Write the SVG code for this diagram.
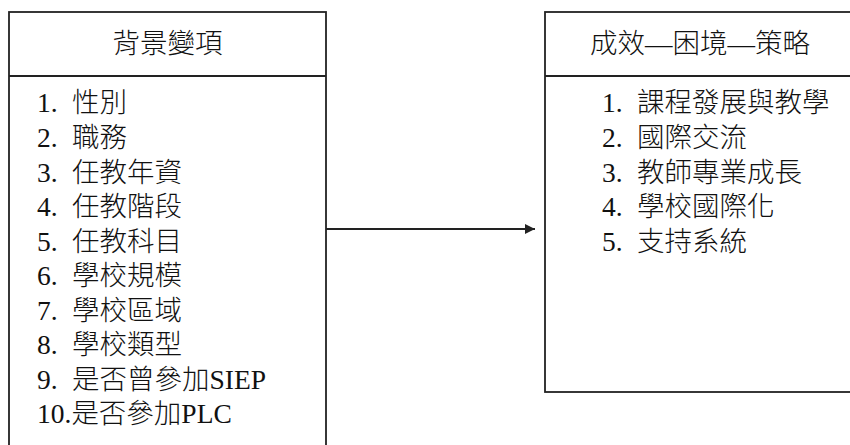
<svg xmlns="http://www.w3.org/2000/svg" width="850" height="445" viewBox="0 0 850 445">
<style>
.box{fill:none;stroke:#222;stroke-width:1.8}
.t{font-family:"Liberation Serif","Noto Sans CJK TC",serif;font-size:27.5px;font-weight:300;fill:#111}
.title{text-anchor:middle}
.conn{stroke:#222;stroke-width:1.8;fill:none}
</style>
<defs>
<marker id="arr" markerWidth="10" markerHeight="10" refX="10" refY="5" orient="auto" markerUnits="userSpaceOnUse">
<path d="M0,0 L10,5 L0,10 Z" fill="#222"/>
</marker>
</defs>
<rect width="850" height="445" fill="#fff"/>
<g id="background-variables">
<rect class="box" x="9" y="12" width="317" height="460"/>
<line class="box" x1="9" y1="76" x2="326" y2="76"/>
<text class="t title" x="167.5" y="53">背景變項</text>
<text class="t" x="37" y="112">1.<tspan x="72">性別</tspan></text>
<text class="t" x="37" y="147">2.<tspan x="72">職務</tspan></text>
<text class="t" x="37" y="182">3.<tspan x="72">任教年資</tspan></text>
<text class="t" x="37" y="216">4.<tspan x="72">任教階段</tspan></text>
<text class="t" x="37" y="251">5.<tspan x="72">任教科目</tspan></text>
<text class="t" x="37" y="285">6.<tspan x="72">學校規模</tspan></text>
<text class="t" x="37" y="320">7.<tspan x="72">學校區域</tspan></text>
<text class="t" x="37" y="354">8.<tspan x="72">學校類型</tspan></text>
<text class="t" x="37" y="389">9.<tspan x="72">是否曾參加SIEP</tspan></text>
<text class="t" x="37" y="423">10.是否參加PLC</text>
</g>
<g id="connectors">
<line class="conn" x1="326" y1="229" x2="535" y2="229" marker-end="url(#arr)"/>
</g>
<g id="outcomes">
<rect class="box" x="545" y="12" width="312" height="380"/>
<line class="box" x1="545" y1="76" x2="857" y2="76"/>
<text class="t title" x="700" y="53">成效—困境—策略</text>
<text class="t" x="602" y="112">1.<tspan x="637">課程發展與教學</tspan></text>
<text class="t" x="602" y="147">2.<tspan x="637">國際交流</tspan></text>
<text class="t" x="602" y="182">3.<tspan x="637">教師專業成長</tspan></text>
<text class="t" x="602" y="216">4.<tspan x="637">學校國際化</tspan></text>
<text class="t" x="602" y="251">5.<tspan x="637">支持系統</tspan></text>
</g>
</svg>
